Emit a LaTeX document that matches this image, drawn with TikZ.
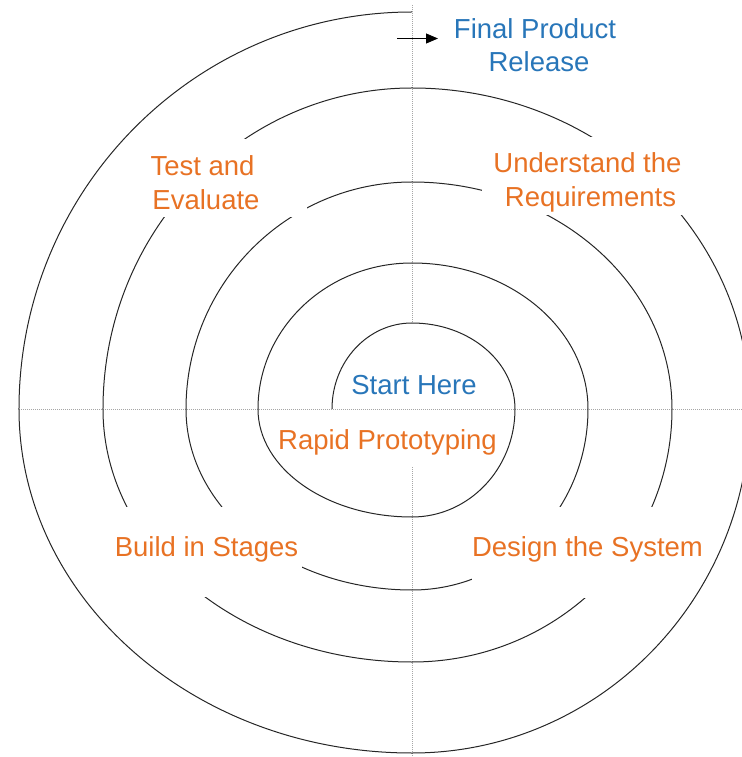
\documentclass[tikz,border=0pt]{standalone}
\usepackage{fontspec}
\setmainfont{Liberation Sans}
\usetikzlibrary{arrows.meta}
\definecolor{lblblue}{RGB}{40,118,185}
\definecolor{lblorange}{RGB}{232,114,36}
\tikzset{
  axisline/.style={gray!70, line width=0.6bp, dash pattern=on 1bp off 1bp},
  spiralline/.style={black!85, line width=1bp},
  mask/.style={fill=white, draw=none},
  lbl/.style={inner sep=0pt, anchor=base, font=\fontsize{27.5bp}{33bp}\selectfont},
  bluelbl/.style={lbl, text=lblblue},
  orangelbl/.style={lbl, text=lblorange},
  pointer/.style={black, line width=0.9bp, -{Triangle[length=12bp,width=10bp]}}
}
\begin{document}
\begin{tikzpicture}[x=1bp,y=1bp]
\useasboundingbox (-412,-348) rectangle (330,409);
% axes
\coordinate (hl) at (-393,0);
\coordinate (hr) at (330,0);
\coordinate (vt) at (0,404);
\coordinate (va) at (0,87);
\coordinate (vb) at (0,-58);
\coordinate (vbot) at (0,-348);
\draw[axisline] (hl) -- (hr);
\draw[axisline] (vt) -- (va);
\draw[axisline] (vb) -- (vbot);
% spiral
\coordinate (start) at (-80,0);
\draw[spiralline] (start)
  arc[start angle=180, end angle=90,  x radius=80,  y radius=86]
  arc[start angle=90,  end angle=0,   x radius=103, y radius=86]
  arc[start angle=0,   end angle=-90, x radius=103, y radius=108]
  arc[start angle=-90, end angle=-180,x radius=154, y radius=108]
  arc[start angle=180, end angle=90,  x radius=154, y radius=146]
  arc[start angle=90,  end angle=0,   x radius=176, y radius=146]
  arc[start angle=0,   end angle=-90, x radius=176, y radius=181]
  arc[start angle=-90, end angle=-180,x radius=226, y radius=181]
  arc[start angle=180, end angle=90,  x radius=226, y radius=227]
  arc[start angle=90,  end angle=0,   x radius=260, y radius=227]
  arc[start angle=0,   end angle=-90, x radius=260, y radius=253]
  arc[start angle=-90, end angle=-180,x radius=309, y radius=253]
  arc[start angle=180, end angle=90,  x radius=309, y radius=321]
  arc[start angle=90,  end angle=0,   x radius=338, y radius=321]
  arc[start angle=0,   end angle=-90, x radius=338, y radius=344]
  arc[start angle=-90, end angle=-180,x radius=393, y radius=344]
  arc[start angle=180, end angle=90,  x radius=393, y radius=397] coordinate (spiralend);
% label masks
\fill[mask] (-278,192) rectangle (-105,270);
\fill[mask] (70,194) rectangle (273,272);
\fill[mask] (-305,-188) rectangle (-110,-98);
\fill[mask] (60,-189) rectangle (275,-98);
% arrow to final release
\coordinate (arrA) at (-15,370.5);
\coordinate (arrB) at (26,370.5);
\draw[pointer] (arrA) -- (arrB);
% labels
\node[bluelbl] (final1) at (123,370) {Final Product};
\node[bluelbl] (final2) at (127,337) {Release};
\node[orangelbl] (test1) at (-209.5,233) {Test and};
\node[orangelbl] (test2) at (-206,199) {Evaluate};
\node[orangelbl] (req1) at (175.5,236) {Understand the};
\node[orangelbl] (req2) at (178.5,202) {Requirements};
\node[bluelbl] (startlbl) at (2,14) {Start Here};
\node[orangelbl] (rapid) at (-24.5,-41) {Rapid Prototyping};
\node[orangelbl] (build) at (-205.5,-147) {Build in Stages};
\node[orangelbl] (design) at (175.5,-147) {Design the System};
\end{tikzpicture}
\end{document}
